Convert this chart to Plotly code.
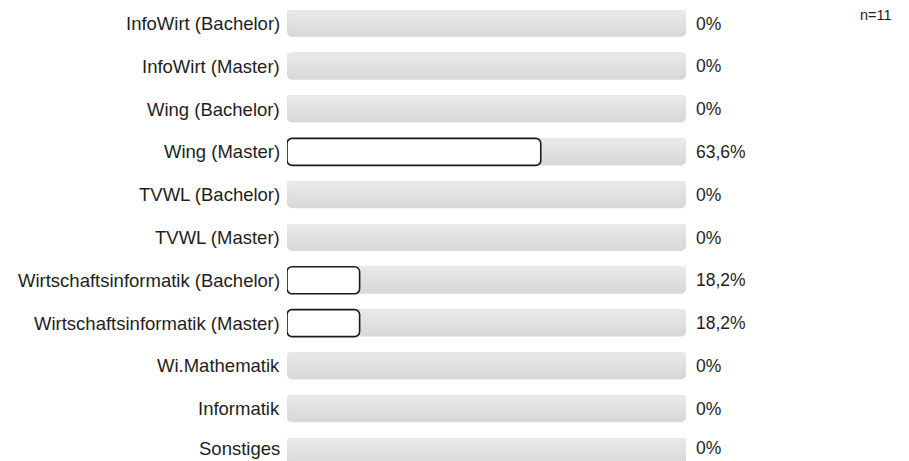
import plotly.graph_objects as go

categories = [
    "InfoWirt (Bachelor)", "InfoWirt (Master)", "Wing (Bachelor)", "Wing (Master)",
    "TVWL (Bachelor)", "TVWL (Master)", "Wirtschaftsinformatik (Bachelor)",
    "Wirtschaftsinformatik (Master)", "Wi.Mathematik", "Informatik", "Sonstiges",
]
values = [0, 0, 0, 63.6, 0, 0, 18.2, 18.2, 0, 0, 0]
n_label = "n=11"


def fmt(v):
    if v == 0:
        return "0%"
    return ("%.1f" % v).replace(".", ",") + "%"


labels = [fmt(v) for v in values]
ypos = list(range(len(categories)))
FONT = "Arial, Liberation Sans, sans-serif"
TXT = "#1e1e1e"

W, H = 909, 461
X0, X1 = 287, 686          # pixel extent of the 0..100 track
ROW0, PITCH = 23.5, 42.8   # first row centre and row pitch in pixels
BAR_PX = 27.0
BW = BAR_PX / PITCH
n = len(categories)

fig = go.Figure()
# grey tracks with a light vertical gradient (stacked layers from the top edge)
shades = ["#d9d9d9", "#dcdcdc", "#dfdfdf", "#e2e2e2", "#e5e5e5", "#e8e8e8"]
for i, col in enumerate(shades):
    frac = 1 - i / len(shades)
    fig.add_trace(go.Bar(
        y=ypos, x=[100] * n, base=[0] * n, orientation="h",
        width=BW * frac, offset=-BW / 2,
        marker=dict(color=col, line=dict(width=0), cornerradius=5),
        hoverinfo="skip", showlegend=False,
    ))
# value bars
fig.add_trace(go.Bar(
    y=ypos, x=[v if v > 0 else None for v in values], base=[0] * n, orientation="h",
    width=BW, offset=-BW / 2,
    marker=dict(color="white", line=dict(color="#1a1a1a", width=1.6), cornerradius=5),
    customdata=labels, hovertemplate="%{customdata}<extra></extra>", showlegend=False,
))

for y, cat, t in zip(ypos, categories, labels):
    centre_px = ROW0 + PITCH * y
    # keep the bottom row's text inside the page (positive yshift moves up)
    ys = (centre_px - (H - 13)) if centre_px > H - 13 else 0
    fig.add_annotation(x=0, y=y, xref="x", yref="y", text=cat, showarrow=False,
                       xanchor="right", yanchor="middle", xshift=-5, yshift=ys,
                       font=dict(family=FONT, size=18.5, color=TXT))
    fig.add_annotation(x=100, y=y, xref="x", yref="y", text=t, showarrow=False,
                       xanchor="left", yanchor="middle", xshift=8, yshift=ys,
                       font=dict(family=FONT, size=17.5, color=TXT))
fig.add_annotation(xref="paper", yref="paper",
                   x=(876 - X0) / (X1 - X0), y=1 - 15 / H, text=n_label, showarrow=False,
                   xanchor="center", yanchor="middle",
                   font=dict(family=FONT, size=14.5, color=TXT))

fig.update_layout(
    width=W, height=H, barmode="overlay",
    margin=dict(l=X0, r=W - X1, t=0, b=0, pad=0),
    paper_bgcolor="white", plot_bgcolor="white",
    font=dict(family=FONT, size=18, color=TXT),
    xaxis=dict(range=[0, 100], visible=False, fixedrange=True),
    yaxis=dict(range=[(H - ROW0) / PITCH, -ROW0 / PITCH], visible=False, fixedrange=True),
)
fig.write_html("out.html", config={"displayModeBar": False},
               post_script="document.body.style.margin='0';document.body.style.overflow='hidden';")
